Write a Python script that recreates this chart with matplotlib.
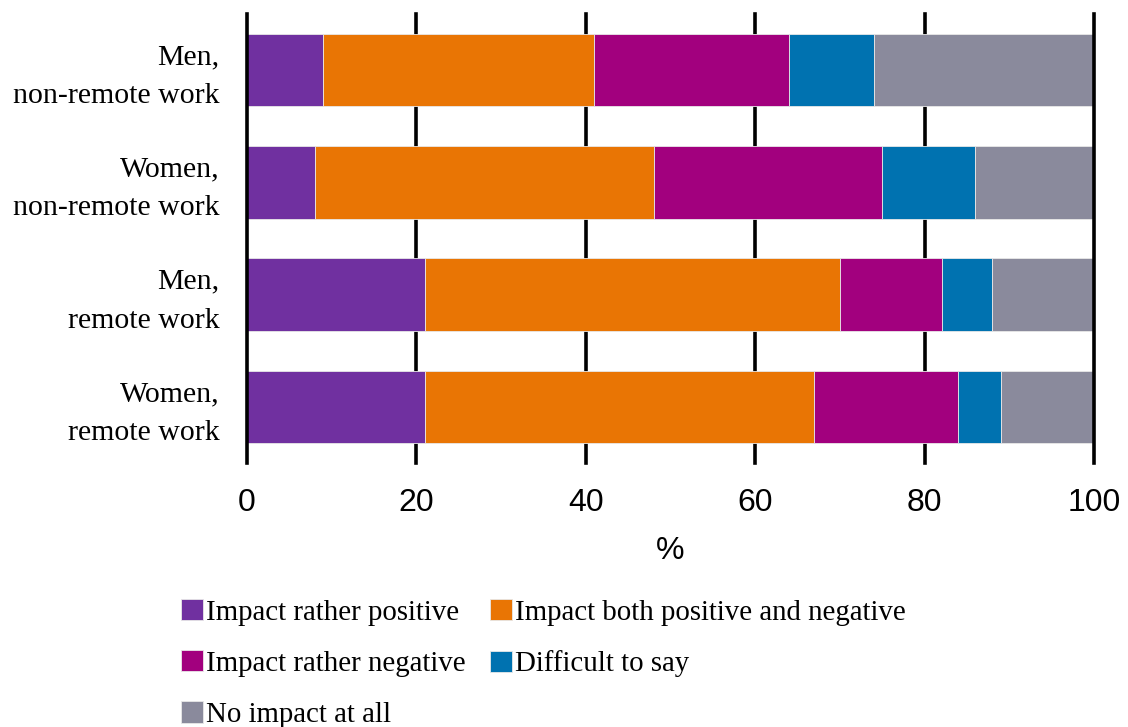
import matplotlib
matplotlib.use("Agg")
import matplotlib.pyplot as plt
import numpy as np

categories = ["Men,\nnon-remote work", "Women,\nnon-remote work", "Men,\nremote work", "Women,\nremote work"]
series_names = ["Impact rather positive", "Impact both positive and negative",
                "Impact rather negative", "Difficult to say", "No impact at all"]
rather_positive = [9, 8, 21, 21]
both = [32, 40, 49, 46]
rather_negative = [23, 27, 12, 17]
difficult = [10, 11, 6, 5]
no_impact = [26, 14, 12, 11]
x_ticks = [0, 20, 40, 60, 80, 100]

colors = ["#7030A0", "#E97504", "#A2007E", "#0072B0", "#8A8A9C"]
series = [rather_positive, both, rather_negative, difficult, no_impact]

fig = plt.figure(figsize=(11.28, 7.27), dpi=100)
ax = fig.add_axes([247/1128, (727-463)/727, (1094-247)/1128, (463-14)/727])

y = np.arange(len(categories))
left = np.zeros(len(categories))
handles = []
for name, vals, c in zip(series_names, series, colors):
    b = ax.barh(y, vals, left=left, height=0.646, color=c, edgecolor="#e8e8e8",
                linewidth=0.6, label=name, zorder=2)
    handles.append(b)
    left += np.array(vals)

ax.set_xlim(0, 100)
ax.set_ylim(3.5, -0.5)
ax.set_xticks(x_ticks)
ax.set_xticklabels([str(t) for t in x_ticks], family="Liberation Sans", fontsize=23)
# labels sit slightly below bar centres in the reference
ax.set_yticks(y + 0.058)
ax.set_yticklabels(categories, family="Liberation Serif", fontsize=21.5, linespacing=1.65)
for lab in ax.get_yticklabels():
    lab.set_va("center")
ax.tick_params(axis="both", length=0)
ax.tick_params(axis="x", pad=18)
ax.tick_params(axis="y", pad=20)
for s in ax.spines.values():
    s.set_visible(False)
for t in x_ticks:
    z = 3 if t in (0, 100) else 1
    ax.axvline(t, color="black", linewidth=2.6, zorder=z, clip_on=False)

ax.set_xlabel("%", family="Liberation Sans", fontsize=23, labelpad=13)

order = [0, 2, 4, 1, 3]
leg = fig.legend([handles[i] for i in order], [series_names[i] for i in order],
                 loc="upper left", bbox_to_anchor=(181/1128, (727-599)/727),
                 ncol=2, frameon=False, prop={"family": "Liberation Serif", "size": 20.8},
                 handlelength=0.75, handleheight=0.75, handletextpad=0.1,
                 columnspacing=0.87, labelspacing=0.85, borderpad=0, borderaxespad=0)

fig.savefig("out.png", dpi=100)
